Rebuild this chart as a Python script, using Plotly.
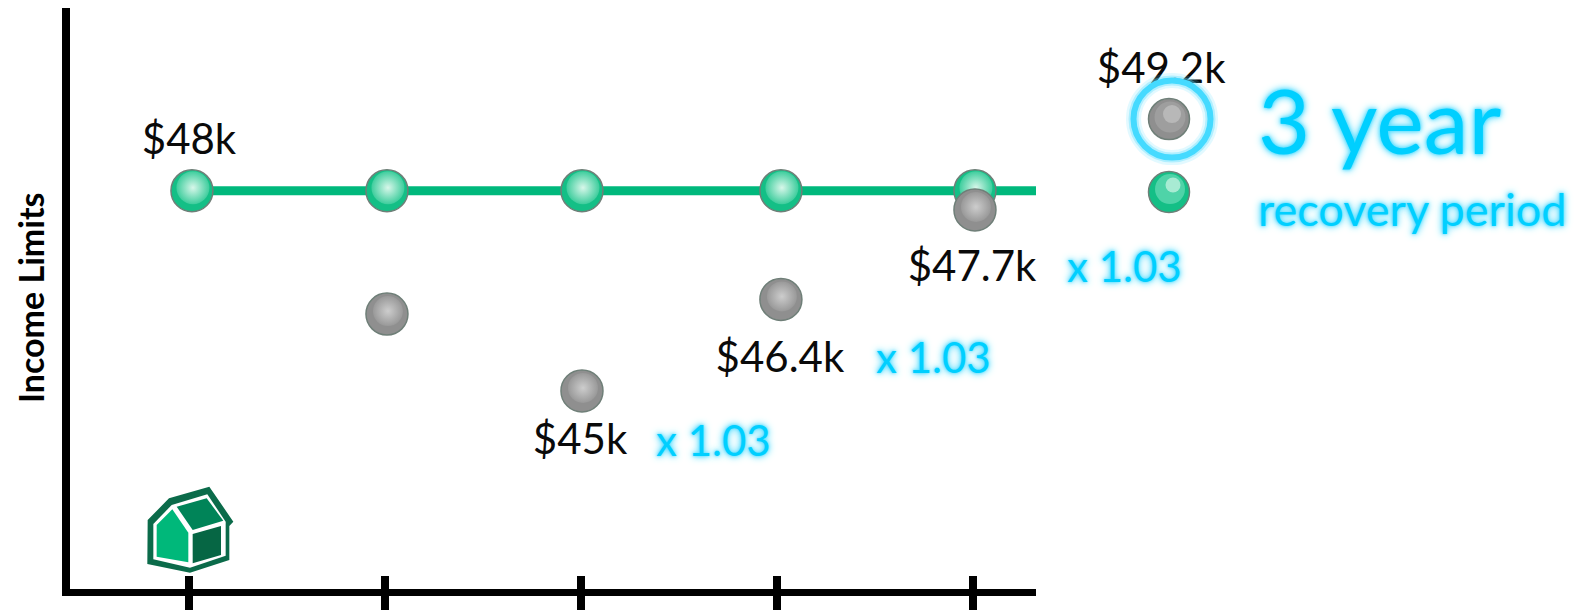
import plotly.graph_objects as go

W, H = 1574, 610

# ---- data ----
periods = [0, 1, 2, 3, 4, 5]
limit_x = [0.015, 1.01, 2.005, 3.02, 4.01, 5.0]
limit_values = [48, 48, 48, 48, 48, 47.98]
income_x = [1.01, 2.005, 3.02, 4.01, 5.0]
income_values = [46.14, 44.98, 46.36, 47.71, 49.08]
line_x = [0.015, 1.01, 2.005, 3.02, 4.01, 5.0]
line_values = [48, 48, 48, 48, 48, 48]
label_x = [0.0, 1.995, 3.015, 3.995, 4.96]
label_y = [48.71, 44.19, 45.42, 46.79, 49.79]
labels = ["$48k", "$45k", "$46.4k", "$47.7k", "$49.2k"]
multiplier_labels = ["x 1.03", "x 1.03", "x 1.03"]
multiplier_pos = [(713, 440), (934, 357), (1124, 266)]

# ---- scales ----
X0, XS = 189.0, 196.0
Y48, YS = 190.7, 66.3
AX_L, AX_R, AX_T, AX_B = 70, 1036, 8, 588.5
xrange_ = [(AX_L - X0) / XS, (AX_R - X0) / XS]
xrange_full = [(0 - X0) / XS, (W - X0) / XS]
yrange_ = [48 - (AX_B - Y48) / YS, 48 + (Y48 - AX_T) / YS]
dx = lambda p: p / XS
dy = lambda p: -p / YS

GREEN, GREY, BLUE = "#00B87C", "#8F8F8F", "#00CFFF"
GLOW = "0 0 3px #4FDCFF, 0 0 6px #4FDCFF, 0 0 10px #8FE9FF"
FONT = "Lato, Carlito, 'Noto Sans', sans-serif"

fig = go.Figure()

# the green line stops at the end of the drawn axis
fig.add_trace(go.Scatter(x=line_x, y=line_values, mode="lines", cliponaxis=True,
                         line=dict(color=GREEN, width=9), hoverinfo="skip", showlegend=False))
# carries the inside half of the tick marks
fig.add_trace(go.Scatter(x=[None], y=[None], xaxis="x2", yaxis="y", showlegend=False, hoverinfo="skip"))


def spheres(xs, ys, base, mids, edge="#6F7F78", size=42):
    fig.add_trace(go.Scatter(x=xs, y=ys, mode="markers", cliponaxis=False, showlegend=False,
                             xaxis="x3", yaxis="y",
                             marker=dict(size=size, color=base, line=dict(color=edge, width=1.5))))
    for col, centre, sz, ox, oy in mids:
        m = dict(size=sz, color=col, line=dict(width=0))
        if centre:
            m["gradient"] = dict(type="radial", color=centre)
        fig.add_trace(go.Scatter(x=[v + dx(ox) for v in xs], y=[v + dy(oy) for v in ys],
                                 mode="markers", cliponaxis=False, showlegend=False, hoverinfo="skip",
                                 xaxis="x3", yaxis="y", marker=m))


G_DOT = [("#3ECD9D", "#D8F7EA", 33, 1, -3)]
G_END = [("#4FD3A8", None, 30, 1, -3), ("#A8EBD3", None, 15, 4, -7)]
K_DOT = [("#999999", "#CDCDCD", 30, 1, -3)]
K_END = [("#9E9E9E", None, 31, 1, -2), ("#B8B8B8", None, 18, 3, -5)]

spheres(limit_x[:5], limit_values[:5], "#14BF86", G_DOT)
spheres(limit_x[5:], limit_values[5:], "#14BF86", G_END, size=41)
spheres(income_x[:4], income_values[:4], GREY, K_DOT)
spheres(income_x[4:], income_values[4:], GREY, K_END, size=41)

# value labels
fig.add_trace(go.Scatter(x=label_x, y=label_y, text=labels, mode="text", cliponaxis=False,
                         xaxis="x3", yaxis="y",
                         textposition="middle center", showlegend=False, hoverinfo="skip",
                         textfont=dict(family=FONT, size=42, color="#0A0A0A")))

# ring around the last point
ring_x, ring_y = [income_x[-1] + dx(3)], [income_values[-1]]
for width, col in [(15, "rgba(95,224,255,0.18)"), (10, "rgba(95,224,255,0.38)"), (6, "#45DAFF")]:
    fig.add_trace(go.Scatter(x=ring_x, y=ring_y, mode="markers", cliponaxis=False, showlegend=False,
                             xaxis="x3", yaxis="y", hoverinfo="skip",
                             marker=dict(symbol="circle-open", size=77, color=col,
                                         line=dict(color=col, width=width))))

fig.update_layout(
    width=W, height=H, margin=dict(l=0, r=0, t=0, b=0), autosize=False,
    paper_bgcolor="white", plot_bgcolor="rgba(0,0,0,0)", showlegend=False,
    xaxis=dict(domain=[AX_L / W, AX_R / W], range=xrange_, showgrid=False, zeroline=False,
               showline=True, linecolor="black", linewidth=7, anchor="y",
               tickmode="array", tickvals=periods[:5], ticktext=[""] * 5,
               ticks="outside", ticklen=16, tickwidth=8, tickcolor="black"),
    xaxis2=dict(domain=[AX_L / W, AX_R / W], range=xrange_, overlaying="x", side="bottom", anchor="y",
                showgrid=False, zeroline=False, showline=False,
                tickmode="array", tickvals=periods[:5], ticktext=[""] * 5,
                ticks="inside", ticklen=13, tickwidth=8, tickcolor="black"),
    # a page-wide axis with the same scale: the last period lies past the drawn axis
    xaxis3=dict(domain=[0, 1], range=xrange_full, anchor="y", visible=False),
    yaxis=dict(domain=[1 - AX_B / H, 1 - AX_T / H], range=yrange_, showgrid=False, zeroline=False,
               showline=True, linecolor="black", linewidth=8, showticklabels=False, ticks=""),
)


def note(text, x, y, size, color="black", shadow=None, angle=0, bold=False):
    font = dict(family=FONT, size=size, color=color, weight=700 if bold else 400)
    if shadow:
        font["shadow"] = shadow
    fig.add_annotation(text=text, xref="paper", yref="paper", x=x / W, y=1 - y / H,
                       xanchor="center", yanchor="middle", showarrow=False, font=font, textangle=angle)


note("Income Limits", 31, 298, 34, bold=True, angle=-90)
for t, (px, py) in zip(multiplier_labels, multiplier_pos):
    note(t, px, py, 42, BLUE, GLOW)
note("3 year", 1379, 119, 90, BLUE, GLOW)
note("recovery period", 1412, 209, 45, BLUE, GLOW)


# house icon (zoom-crop coordinates -> page pixels)
def poly(points, color):
    path = "M " + " L ".join(f"{(50 + a / 3) / W:.5f},{1 - (440 + b / 3) / H:.5f}" for a, b in points) + " Z"
    fig.add_shape(type="path", path=path, xref="paper", yref="paper", fillcolor=color,
                  line=dict(width=0), layer="above")


poly([(293, 240), (357, 175), (478, 140), (550, 245), (538, 258), (538, 360), (420, 398), (292, 372)], "#0B6B4A")
poly([(310, 252), (365, 195), (472, 163), (527, 245), (527, 347), (420, 383), (310, 358)], "white")
poly([(320, 255), (367, 208), (415, 278), (415, 367), (320, 350)], "#00B87A")
poly([(380, 200), (470, 175), (520, 242), (428, 270)], "#008458")
poly([(428, 282), (513, 258), (513, 345), (428, 370)], "#066644")

fig.write_html("out.html", config=dict(displayModeBar=False),
               post_script="document.body.style.margin='0';document.documentElement.style.overflow='hidden';")
